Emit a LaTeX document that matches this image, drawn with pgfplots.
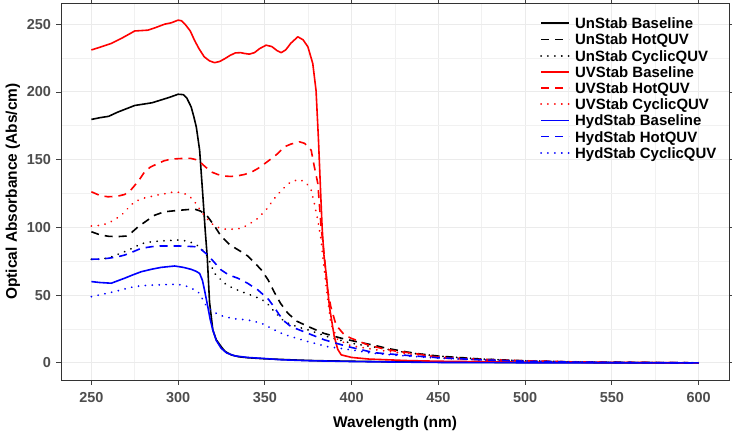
\documentclass[border=0pt]{standalone}
\usepackage{pgfplots}
\pgfplotsset{compat=1.18}
\usepackage{fontspec}
\setmainfont{Liberation Sans}
\definecolor{tickgray}{HTML}{4D4D4D}
\definecolor{gridgray}{HTML}{EBEBEB}
\tikzset{
  solidl/.style={line width=1.6bp, line join=round},
  dashl/.style={line width=1.6bp, line join=round, dash pattern=on 8bp off 6bp},
  dotl/.style={line width=1.9bp, line cap=round, dash pattern=on 0.1bp off 6.8bp},
  legtext/.style={anchor=base west, inner sep=0pt, font=\fontsize{15}{16}\selectfont\bfseries},
}

\begin{document}
\begin{tikzpicture}
  \begin{axis}[
      scale only axis,
      width=668bp, height=377bp,
      xmin=232.5, xmax=617.5,
      ymin=-12.65, ymax=265.65,
      xtick={250,300,...,600},
      ytick={0,50,...,250},
      minor xtick={275,325,...,575},
      minor ytick={25,75,...,225},
      grid=both,
      major grid style={gridgray, line width=1bp},
      minor grid style={gridgray!70, line width=0.6bp},
      axis line style={black!80, line width=0.8bp},
      tick style={black!75, line width=0.8bp},
      tick align=outside,
      major tick length=4.5bp,
      minor tick length=0bp,
      /pgf/number format/assume math mode=true,
      ticklabel style={font=\fontsize{14.5}{16}\selectfont\bfseries, text=tickgray},
      xticklabel style={yshift=-4bp},
      yticklabel style={xshift=-2bp},
      xlabel={Wavelength (nm)},
      ylabel={Optical Absorbance (Abs/cm)},
      xlabel style={yshift=-7bp},
      label style={font=\fontsize{15.5}{17}\selectfont\bfseries},
    ]

    % UnStab Baseline
    \addplot[black, solidl] coordinates {
      (250,179.7)(255,181)(260,182)(265,185)(270,187.5)(275,190)(280,191)(285,192)
      (290,194)(295,196)(300,198.3)(303,198)(305,195.5)(307.5,189)(309,182)(310.5,174)
      (312.4,157)(314.3,122.6)(315.6,98)(316.8,78)(318.1,45)(320,24.3)(322,17)(324.8,12)
      (327,8.5)(330.6,5.9)(335,4.5)(340,3.8)(350,3)(360,2.5)(370,2)(380,1.6)(400,1.2)
      (420,0.8)(450,0.5)(500,0.2)(550,0.1)(600,0)
    };

    % UnStab HotQUV
    \addplot[black, dashl] coordinates {
      (250,96.8)(255,94.5)(260,93.4)(265,93.2)(270,93.6)(273,96)(277,100.5)(282,105)
      (286.5,109)(292,111.5)(298,112.3)(304,113)(309.5,113.5)(313,112)(317,108)(321,101)
      (324.8,93.4)(330,87)(336.4,82)(340,79)(344,74)(348,68.6)(352,61)(355.5,52)(359,44)
      (363,37)(368,31)(375,26.8)(384,21.8)(394,18.2)(405,15)(413,13)(420,10.8)(432,8)
      (440,6.5)(450,5)(475,2.8)(500,1.5)(525,0.8)(550,0.5)(575,0.2)(600,0)
    };

    % UnStab CyclicQUV
    \addplot[black, dotl] coordinates {
      (250,76.5)(255,76.5)(260,77.5)(265,80)(271,83)(278.8,88)(285,89.5)(290.3,90)
      (300,90.7)(305,90)(309.5,88)(313,85)(317,78.4)(321,66)(326.7,58.8)(331,55.5)
      (336.4,52.6)(342,50)(348,47)(352,43)(356,37)(360,32)(363,29.5)(369,26.5)(375,24.3)
      (386,19.4)(399.7,14.5)(417,10.8)(432,7.5)(450,5)(475,2.8)(500,1.5)(525,0.8)
      (550,0.4)(600,0)
    };

    % UVStab Baseline
    \addplot[red, solidl] coordinates {
      (250,231)(255,233)(261.5,235.8)(268,240)(275,245)(282.6,245.6)(287,247.5)
      (292.2,250)(296,251)(300,253)(302,252.5)(304,250)(307,245)(309.5,238)(312,232)
      (315,226)(318,223)(321,221.6)(324,222.5)(327,224.6)(330,227)(333,228.8)(336,229)
      (338.3,228.4)(341,227.9)(344,229)(347,232)(350.7,234.5)(354,233.5)(357,230.5)
      (359.4,229)(362,231)(365,236)(369,240.7)(372,238.5)(374.8,233.3)(377.6,221)
      (379.5,201)(380.9,164.5)(382,130)(383,100)(384,80)(385.3,66)(387.2,41.5)(390,19.4)
      (392,10)(394,5.9)(400,4)(410,2.8)(432,1.7)(450,1.2)(500,0.5)(550,0.2)(600,0)
    };

    % UVStab HotQUV
    \addplot[red, dashl] coordinates {
      (250,126.3)(255,123.5)(259.6,122.6)(265,123)(269.2,124.3)(273,128)(277,134)
      (280.7,141)(284,144.5)(288.4,147.2)(292,149.2)(296,150.4)(303.7,151)(307,151)
      (311.4,149.7)(315,145.5)(319,141)(323,139)(326.7,137.9)(330.5,137.6)(334.4,138.1)
      (338,139)(342,140.6)(346,143.5)(349.8,147)(354,151)(357.5,154.6)(361.3,159.5)
      (365,161.5)(369.9,163.2)(373,162)(376.7,157)(378.5,144.8)(380.5,132.5)(382.4,100.5)
      (384.3,78.4)(386,55)(388,41.5)(391,28)(395.8,20.6)(399.7,18.2)(405,15.5)(410,13)
      (417,10.8)(425,8.8)(436,7)(445,5)(455,3.4)(475,2.2)(493.5,1.7)(525,0.8)(550,0.4)
      (600,0)
    };

    % UVStab CyclicQUV
    \addplot[red, dotl] coordinates {
      (250,101)(255,101.5)(259.6,103)(263,105.5)(267.3,109)(271,114)(275,119)(280,121.5)
      (288.4,124)(293,125)(298,126.3)(302,125.5)(305.6,124)(309,120)(311.4,115.3)(315,109)
      (319,103)(323,100)(326.7,98.8)(331,98.7)(336.4,99.3)(341,102.5)(346,106.7)
      (351,113.5)(355.5,121.4)(360,128)(365,133.7)(370,135.4)(373.8,133)(376.7,127.6)
      (378.5,117.7)(380.5,105.5)(382.4,90.7)(383.4,78.4)(385,60)(388,29)(392,17)
      (400,12.5)(415,9.5)(430,7)(450,4.5)(475,2.8)(500,1.6)(525,0.8)(550,0.4)(600,0)
    };

    % HydStab Baseline
    \addplot[blue, solidl] coordinates {
      (250,60)(255,59.3)(261.5,58.8)(265,60.5)(269.2,62.5)(274,65)(278.8,67.3)(285,69.2)
      (290.3,70.5)(298,71.5)(303,70.5)(307.6,69)(310.5,67.5)(312.4,66)(314,61)(315.2,53.8)
      (317.1,41.5)(318.5,32)(320,24.3)(322,16.5)(324.8,10.8)(328,7.3)(332.5,5.2)(340,4)
      (350,3.2)(359.4,2.3)(375,1.6)(400,1)(425,0.6)(450,0.3)(500,0.1)(600,0)
    };

    % HydStab HotQUV
    \addplot[blue, dashl] coordinates {
      (250,76.5)(255,76.6)(259.6,77.2)(265,78.2)(269.2,79.6)(274,82)(278.8,84.6)(285,85.8)
      (290.3,86.3)(300,86.3)(309.5,85.8)(313,84)(317.1,79.6)(321,74)(324.8,68.6)(329,65)
      (334.4,62.5)(340,58.8)(346,53.8)(352,47)(355.5,41)(358,36)(361,31)(365,26.8)
      (374.8,21.8)(384.3,17)(397.8,12)(413,7.5)(432,5.5)(450,3.8)(475,2.2)(500,1.2)
      (525,0.6)(550,0.3)(600,0)
    };

    % HydStab CyclicQUV
    \addplot[blue, dotl] coordinates {
      (250,48.9)(256,50.5)(263.4,52.6)(269,54.5)(275,56.3)(280,57)(286.5,57.5)(298,58)
      (302,57.5)(305.6,56.3)(308.5,54.5)(311.4,52.6)(313.5,48.5)(315.2,44)(317,41)(319,39)
      (322,36.5)(326.7,34)(333,32.5)(340,31.7)(348,29.3)(355.5,24.3)(360,21.5)(365,19.4)
      (374.8,15.7)(386,12)(399.7,9.6)(410,7.5)(422.7,5.9)(435,4.8)(450,3.5)(475,2.2)
      (500,1.4)(525,0.8)(550,0.4)(575,0.2)(600,0)
    };

    \coordinate (sw) at (rel axis cs:0,0);
    \coordinate (ne) at (rel axis cs:1,1);
  \end{axis}

  % legend, no frame, top right inside the panel
  \coordinate (L) at ([shift={(-188bp,-20.3bp)}]ne);
  \begin{scope}[shift={(L)}]
    \draw[black, solidl] (0bp,0bp) -- (28bp,0bp);
    \node[legtext] at (34bp,-5.4bp) {UnStab Baseline};
    \draw[black, dashl] (0bp,-16.2bp) -- (28bp,-16.2bp);
    \node[legtext] at (34bp,-21.6bp) {UnStab HotQUV};
    \draw[black, dotl] (0bp,-32.4bp) -- (28bp,-32.4bp);
    \node[legtext] at (34bp,-37.8bp) {UnStab CyclicQUV};
    \draw[red, solidl] (0bp,-48.6bp) -- (28bp,-48.6bp);
    \node[legtext] at (34bp,-54bp) {UVStab Baseline};
    \draw[red, dashl] (0bp,-64.8bp) -- (28bp,-64.8bp);
    \node[legtext] at (34bp,-70.2bp) {UVStab HotQUV};
    \draw[red, dotl] (0bp,-81bp) -- (28bp,-81bp);
    \node[legtext] at (34bp,-86.4bp) {UVStab CyclicQUV};
    \draw[blue, solidl] (0bp,-97.2bp) -- (28bp,-97.2bp);
    \node[legtext] at (34bp,-102.6bp) {HydStab Baseline};
    \draw[blue, dashl] (0bp,-113.4bp) -- (28bp,-113.4bp);
    \node[legtext] at (34bp,-118.8bp) {HydStab HotQUV};
    \draw[blue, dotl] (0bp,-129.6bp) -- (28bp,-129.6bp);
    \node[legtext] at (34bp,-135bp) {HydStab CyclicQUV};
  \end{scope}

  \pgfresetboundingbox
  \useasboundingbox ([shift={(-61bp,-51bp)}]sw) rectangle ([shift={(3bp,3bp)}]ne);
\end{tikzpicture}
\end{document}
